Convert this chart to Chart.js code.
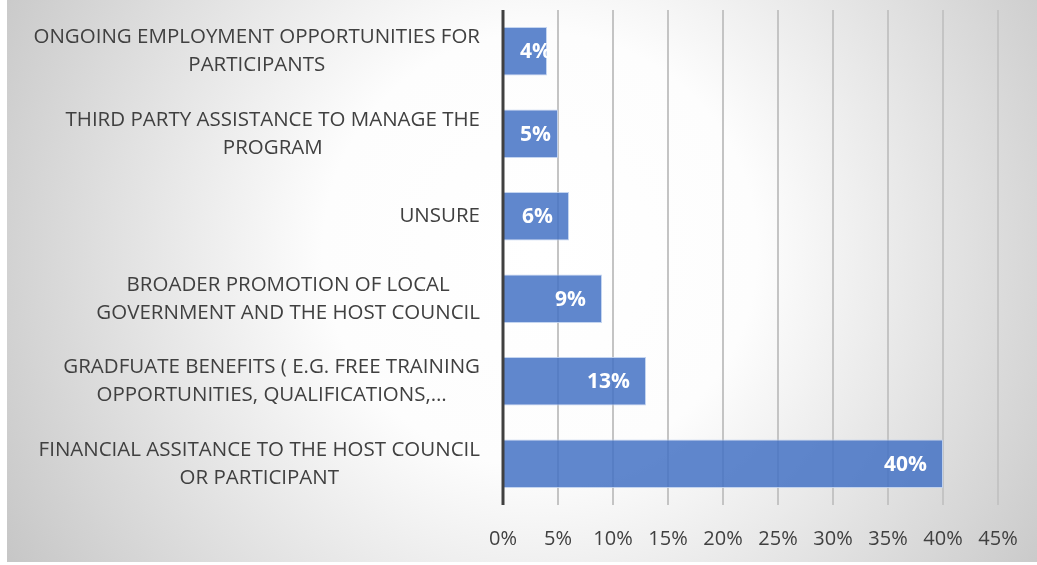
<!DOCTYPE html>
<html>
<head>
<meta charset="utf-8">
<script src="https://cdn.jsdelivr.net/npm/chart.js@4"></script>
<style>
    html, body { margin: 0; padding: 0; background: #fff; }
    #wrap { width: 1037px; height: 565px; }
</style>
</head>
<body>
<div id="wrap"><canvas id="c" width="1037" height="565"></canvas></div>
<script>
const categories = [
    ["ONGOING EMPLOYMENT OPPORTUNITIES FOR", "PARTICIPANTS"],
    ["THIRD PARTY ASSISTANCE TO MANAGE THE", "PROGRAM"],
    ["UNSURE"],
    ["BROADER PROMOTION OF LOCAL", "GOVERNMENT AND THE HOST COUNCIL"],
    ["GRADFUATE BENEFITS ( E.G. FREE TRAINING", "OPPORTUNITIES, QUALIFICATIONS,\u2026"],
    ["FINANCIAL ASSITANCE TO THE HOST COUNCIL", "OR PARTICIPANT"]
];
const values = [4, 5, 6, 9, 13, 40];
const xMax = 45;
const xStep = 5;

const FONT = "'Open Sans', 'Noto Sans', sans-serif";

// gradient card behind the chart
const bgPlugin = {
    id: 'bg',
    beforeDraw(chart) {
        const c = chart.ctx;
        c.save();
        const g = c.createRadialGradient(540, 250, 0, 540, 250, 620);
        g.addColorStop(0, '#ffffff');
        g.addColorStop(0.35, '#fdfdfd');
        g.addColorStop(1, '#c6c6c6');
        c.fillStyle = g;
        c.fillRect(7, 0, 1030, 562);
        c.restore();
    }
};

// category labels: block right-aligned, lines centred within the block
const yLabels = {
    id: 'ylabels',
    afterDraw(chart) {
        const c = chart.ctx;
        const ys = chart.scales.y;
        c.save();
        c.font = "20.5px " + FONT;
        c.fillStyle = '#404040';
        c.textBaseline = 'middle';
        c.textAlign = 'center';
        const right = 480, lh = 28;
        categories.forEach((lines, i) => {
            const y = ys.getPixelForTick(i);
            const w = Math.max(...lines.map(l => c.measureText(l).width));
            const cx = right - w / 2;
            const y0 = y - (lines.length - 1) * lh / 2;
            lines.forEach((l, k) => c.fillText(l, cx, y0 + k * lh));
        });
        c.restore();
    }
};

// value labels inside the bar end
const valLabels = {
    id: 'vals',
    afterDatasetsDraw(chart) {
        const c = chart.ctx;
        const meta = chart.getDatasetMeta(0);
        c.save();
        c.font = "bold 21px " + FONT;
        c.fillStyle = '#ffffff';
        c.textBaseline = 'middle';
        c.textAlign = 'left';
        meta.data.forEach((bar, i) => {
            const t = values[i] + '%';
            const w = c.measureText(t).width;
            const x = Math.max(bar.base + 16, bar.x - 16 - w);
            c.fillText(t, x, bar.y + 1);
        });
        c.restore();
    }
};

// dark axis line at zero
const zeroLine = {
    id: 'zero',
    afterDatasetsDraw(chart) {
        const c = chart.ctx;
        const x = chart.scales.x.getPixelForValue(0);
        const a = chart.chartArea;
        c.save();
        c.strokeStyle = '#404040';
        c.lineWidth = 3;
        c.beginPath();
        c.moveTo(x, a.top);
        c.lineTo(x, a.bottom);
        c.stroke();
        c.restore();
    }
};

const ctx = document.getElementById("c").getContext("2d");
new Chart(ctx, {
    type: 'bar',
    data: {
        labels: categories,
        datasets: [{
            data: values,
            backgroundColor: 'rgba(68,114,196,0.85)',
            borderColor: 'rgba(190,208,238,0.9)',
            borderWidth: 1,
            barPercentage: 0.59,
            categoryPercentage: 1
        }]
    },
    options: {
        indexAxis: 'y',
        responsive: false,
        animation: false,
        layout: {
            padding: { left: 495, right: 39, top: 10, bottom: 0 }
        },
        scales: {
            x: {
                min: 0,
                max: xMax,
                border: { display: false },
                grid: {
                    color: '#c4c4c4',
                    lineWidth: 2,
                    drawTicks: false
                },
                ticks: {
                    stepSize: xStep,
                    padding: 22,
                    color: '#404040',
                    font: { family: FONT, size: 20 },
                    callback: v => v + '%'
                },
                afterFit(scale) {
                    scale.height = 60;
                    scale.paddingRight = 0;
                    scale.paddingLeft = 0;
                }
            },
            y: {
                grid: { display: false },
                border: { display: false },
                ticks: { display: false }
            }
        },
        plugins: {
            legend: { display: false },
            tooltip: { enabled: false }
        }
    },
    plugins: [bgPlugin, yLabels, valLabels, zeroLine]
});
</script>
</body>
</html>
